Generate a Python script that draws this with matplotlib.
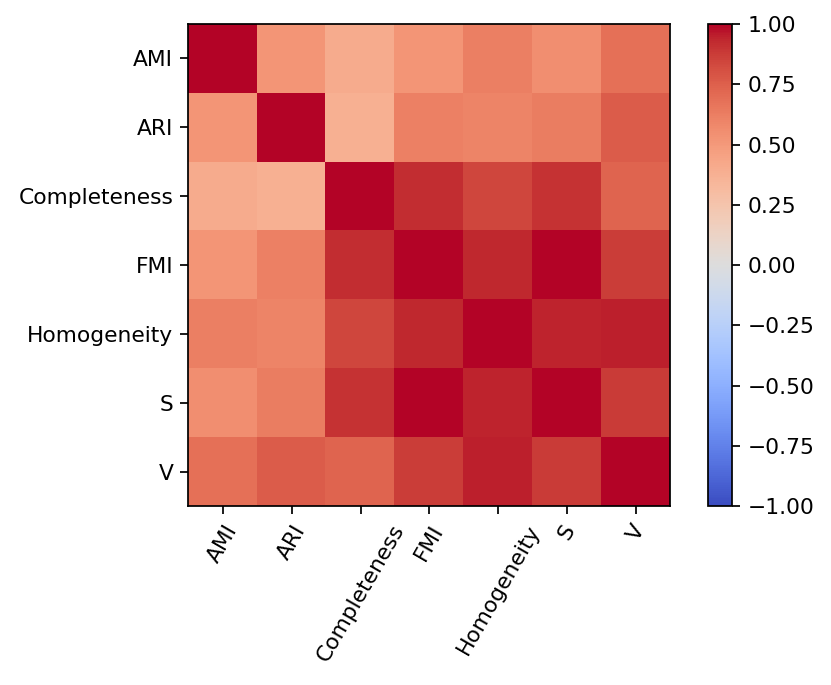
import numpy as np
import matplotlib
matplotlib.use("Agg")
import matplotlib.pyplot as plt

labels = ["AMI", "ARI", "Completeness", "FMI", "Homogeneity", "S", "V"]
row_ami = [1.00, 0.52, 0.40, 0.52, 0.62, 0.55, 0.68]
row_ari = [0.52, 1.00, 0.38, 0.61, 0.60, 0.63, 0.76]
row_com = [0.40, 0.38, 1.00, 0.92, 0.84, 0.90, 0.73]
row_fmi = [0.52, 0.61, 0.92, 1.00, 0.93, 0.995, 0.87]
row_hom = [0.62, 0.60, 0.84, 0.93, 1.00, 0.94, 0.95]
row_s = [0.55, 0.63, 0.90, 0.995, 0.94, 1.00, 0.88]
row_v = [0.68, 0.76, 0.73, 0.87, 0.95, 0.88, 1.00]

corr = np.array([row_ami, row_ari, row_com, row_fmi, row_hom, row_s, row_v])

DPI = 157
fig = plt.figure(figsize=(831 / DPI, 685 / DPI), dpi=DPI)
ax = fig.add_axes([0.2268, 0.2613, 0.5800, 0.7036])
cax = fig.add_axes([0.8514, 0.2613, 0.0295, 0.7036])
im = ax.imshow(corr, cmap="coolwarm", vmin=-1, vmax=1, aspect="auto")
ax.set_xticks(range(len(labels)))
ax.set_xticklabels(labels, rotation=60)
ax.set_yticks(range(len(labels)))
ax.set_yticklabels(labels)
fig.colorbar(im, cax=cax)
fig.savefig("out.png", dpi=DPI)
